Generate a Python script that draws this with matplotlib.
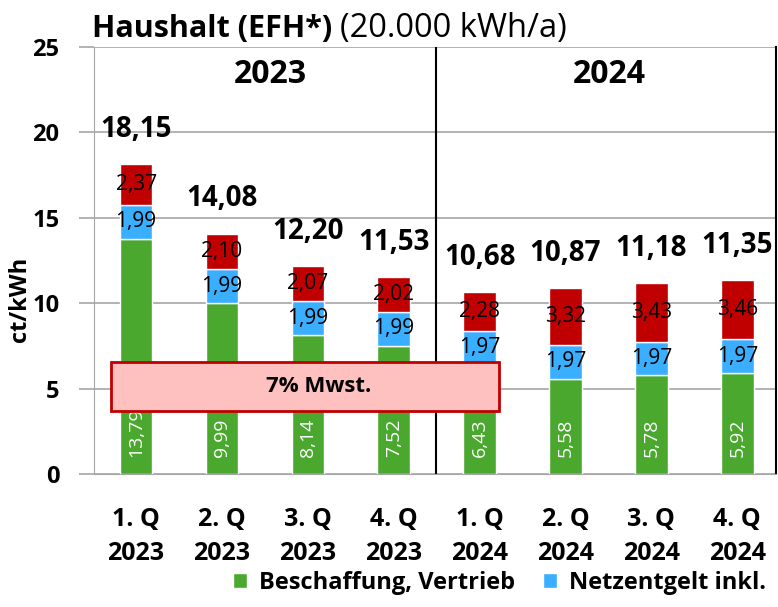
import numpy as np
import matplotlib.pyplot as plt
from matplotlib.patches import Rectangle

plt.rcParams['font.family'] = ['Open Sans', 'DejaVu Sans']

quarters = ['1. Q\n2023', '2. Q\n2023', '3. Q\n2023', '4. Q\n2023',
            '1. Q\n2024', '2. Q\n2024', '3. Q\n2024', '4. Q\n2024']
beschaffung = [13.79, 9.99, 8.14, 7.52, 6.43, 5.58, 5.78, 5.92]
netzentgelt = [1.99, 1.99, 1.99, 1.99, 1.97, 1.97, 1.97, 1.97]
steuern = [2.37, 2.10, 2.07, 2.02, 2.28, 3.32, 3.43, 3.46]
totals = [18.15, 14.08, 12.20, 11.53, 10.68, 10.87, 11.18, 11.35]

green = '#4BA82E'
blue = '#3AAEFF'
red = '#C00000'

def de(v):
    return f'{v:.2f}'.replace('.', ',')

fig = plt.figure(figsize=(7.78, 6.07), dpi=100)
ax = fig.add_axes([0.1208, 0.219, 0.8766, 0.7035])

x = np.arange(len(quarters))
b = np.array(beschaffung); n = np.array(netzentgelt); s = np.array(steuern)
w = 0.38
ax.bar(x, b, width=w, color=green, edgecolor='white', linewidth=1, zorder=3, label='Beschaffung, Vertrieb')
ax.bar(x, n, width=w, bottom=b, color=blue, edgecolor='white', linewidth=1, zorder=3, label='Netzentgelt inkl.')
ax.bar(x, s, width=w, bottom=b + n, color=red, edgecolor='white', linewidth=1, zorder=3)

for i in range(len(x)):
    ax.text(x[i], 1.0, de(b[i]), rotation=90, ha='center', va='bottom',
            color='white', fontsize=14, zorder=4)
    ax.text(x[i], b[i] + n[i] / 2, de(n[i]), ha='center', va='center',
            fontsize=15, zorder=4)
    ax.text(x[i], b[i] + n[i] + s[i] / 2, de(s[i]), ha='center', va='center',
            fontsize=15, zorder=4)
    ax.annotate(de(totals[i]), (x[i], totals[i]), xytext=(0, 19.5),
                textcoords='offset points', ha='center', va='baseline',
                fontsize=20, fontweight='bold', zorder=4)

# 7% MwSt box
ax.add_patch(Rectangle((-0.29, 3.69), 4.52, 2.87, facecolor='#FFC0C0',
                       edgecolor=red, linewidth=2, zorder=5))
ax.text(2.13, 5.12, '7% Mwst.', ha='center', va='center', fontsize=16,
        fontweight='bold', zorder=6)

ax.axvline(3.49, color='black', linewidth=1.5, zorder=2)
ax.text(1.56, 23.4, '2023', ha='center', va='center', fontsize=23, fontweight='bold')
ax.text(5.51, 23.4, '2024', ha='center', va='center', fontsize=23, fontweight='bold')

ax.set_xlim(-0.49, 7.45)
ax.set_ylim(0, 25)
ax.set_yticks([0, 5, 10, 15, 20, 25])
ax.grid(axis='y', color='#A6A6A6', linewidth=1.2, zorder=0)
ax.tick_params(axis='y', length=11, color='#A6A6A6', width=1.2, labelsize=17, pad=14)
ax.tick_params(axis='x', length=0, labelsize=18, pad=24)
for t in ax.get_yticklabels():
    t.set_fontweight('bold')
ax.set_xticks(x)
ax.set_xticklabels(quarters, fontweight='bold', linespacing=1.45)
for side in ['top', 'left', 'bottom']:
    ax.spines[side].set_color('#A6A6A6')
ax.spines['top'].set_visible(False)
ax.spines['right'].set_color('black')
ax.spines['right'].set_linewidth(1.5)

fig.text(20 / 778, 1 - 299 / 607, 'ct/kWh', rotation=90, ha='center', va='center',
         fontsize=17, fontweight='bold')

t1 = fig.text(92 / 778, 1 - 37 / 607, 'Haushalt (EFH*)', fontsize=22,
              fontweight='bold', va='baseline')
fig.canvas.draw()
bb = t1.get_window_extent()
fig.text((bb.x1 + 8) / 778, 1 - 37 / 607, '(20.000 kWh/a)', fontsize=23.5, va='baseline')

fig.legend(loc='center left', bbox_to_anchor=(0.272, 0.04), ncol=2, frameon=False,
           prop={'weight': 'bold', 'size': 17}, handlelength=0.6,
           handleheight=0.6, handletextpad=0.5, columnspacing=1.2)

fig.savefig('out.png', dpi=100)
